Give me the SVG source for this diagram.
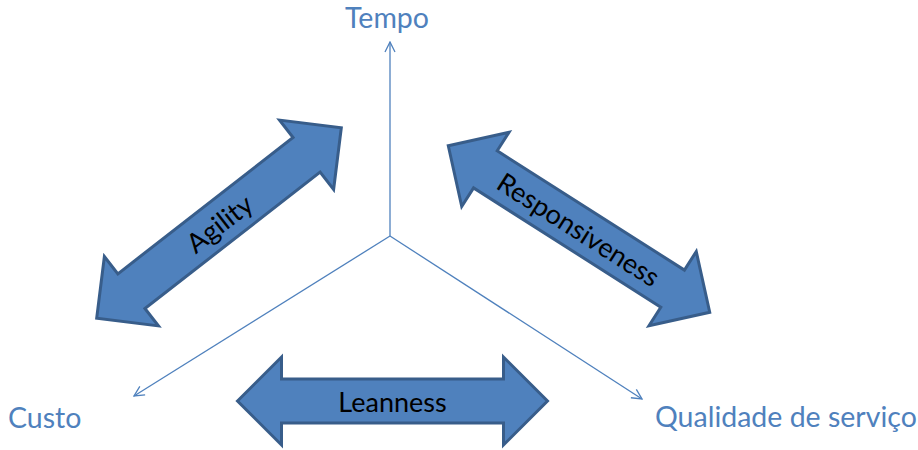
<svg xmlns="http://www.w3.org/2000/svg" width="918" height="450" viewBox="0 0 918 450">
  <style>
    .axis { stroke: #4f81bd; stroke-width: 1.3; fill: none; marker-end: url(#open-head); }
    .block { fill: #4f81bd; stroke: #385d8a; stroke-width: 3; stroke-linejoin: miter; }
    .inner { font-family: Lato, "Liberation Sans", sans-serif; font-size: 27px; fill: #000; text-anchor: middle; dominant-baseline: central; }
    .pole { font-family: Lato, "Liberation Sans", sans-serif; font-size: 28.5px; fill: #4f81bd; }
  </style>
  <defs>
    <marker id="open-head" viewBox="0 0 12 12" refX="11" refY="6" markerWidth="12" markerHeight="12" markerUnits="userSpaceOnUse" orient="auto">
      <path d="M1,1 L11,6 L1,11" fill="none" stroke="#4f81bd" stroke-width="1.3"/>
    </marker>
    <path id="dbl" d="M-155,0 L-111,-44 L-111,-22 L111,-22 L111,-44 L155,0 L111,44 L111,22 L-111,22 L-111,44 Z"/>
  </defs>

  <!-- three axes from the common origin -->
  <g id="connectors">
    <line class="axis" x1="390" y1="236" x2="390" y2="42"/>
    <line class="axis" x1="390" y1="236" x2="134" y2="396"/>
    <line class="axis" x1="390" y1="236" x2="642" y2="399"/>
  </g>

  <!-- axis end labels -->
  <g id="tempo"><text class="pole" x="345" y="28">Tempo</text></g>
  <g id="custo"><text class="pole" x="8" y="428">Custo</text></g>
  <g id="qualidade"><text class="pole" x="655" y="427">Qualidade de serviço</text></g>

  <!-- double-headed trade-off arrows -->
  <g id="agility" transform="translate(219,223) rotate(-37.9)">
    <use href="#dbl" class="block"/>
    <text class="inner" x="0" y="0">Agility</text>
  </g>
  <g id="responsiveness" transform="translate(579,229) rotate(32.5)">
    <use href="#dbl" class="block"/>
    <text class="inner" x="0" y="0">Responsiveness</text>
  </g>
  <g id="leanness" transform="translate(392.5,401)">
    <use href="#dbl" class="block"/>
    <text class="inner" x="0" y="0">Leanness</text>
  </g>
</svg>
